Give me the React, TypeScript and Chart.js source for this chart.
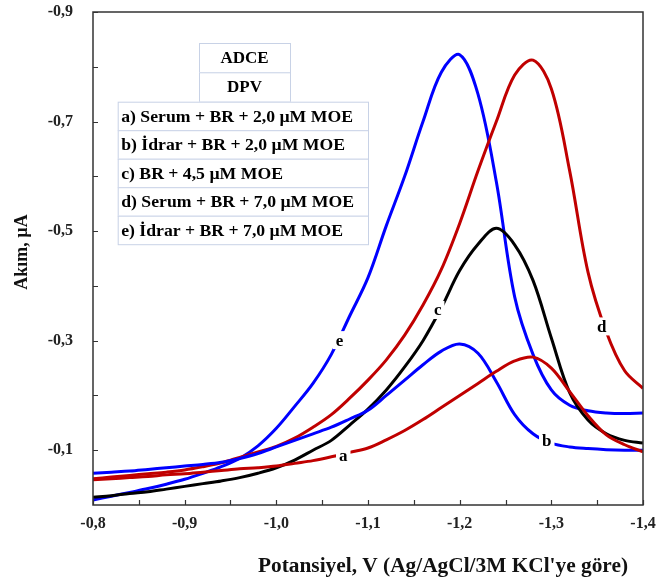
import React, { useEffect, useRef } from 'react';
import { Chart, registerables } from 'chart.js';

Chart.register(...registerables);

// Potential (V vs Ag/AgCl/3M KCl)
const potentials = [
  -0.80, -0.82, -0.84, -0.86, -0.88, -0.90, -0.92, -0.94, -0.96, -0.98,
  -1.00, -1.02, -1.04, -1.06, -1.08, -1.10, -1.12, -1.14, -1.16, -1.18,
  -1.20, -1.22, -1.24, -1.26, -1.28, -1.30, -1.32, -1.34, -1.36, -1.38, -1.40,
];

// Currents (µA)
const seriesA = [
  -0.046, -0.048, -0.050, -0.052, -0.055, -0.057, -0.060, -0.063, -0.066, -0.068,
  -0.071, -0.076, -0.081, -0.088, -0.096, -0.104, -0.119, -0.136, -0.156, -0.178,
  -0.200, -0.222, -0.244, -0.263, -0.270, -0.250, -0.207, -0.163, -0.128, -0.110, -0.097,
];
const seriesB = [
  -0.058, -0.060, -0.062, -0.065, -0.068, -0.071, -0.074, -0.078, -0.085, -0.094,
  -0.106, -0.118, -0.130, -0.142, -0.157, -0.173, -0.200, -0.228, -0.256, -0.281,
  -0.294, -0.277, -0.225, -0.165, -0.130, -0.113, -0.106, -0.103, -0.101, -0.100, -0.100,
];
const seriesC = [
  -0.014, -0.017, -0.021, -0.024, -0.029, -0.034, -0.039, -0.044, -0.050, -0.058,
  -0.068, -0.082, -0.100, -0.118, -0.146, -0.175, -0.210, -0.252, -0.300, -0.360,
  -0.428, -0.476, -0.505, -0.475, -0.410, -0.305, -0.205, -0.155, -0.130, -0.118, -0.113,
];
const seriesD = [
  -0.048, -0.051, -0.054, -0.057, -0.060, -0.064, -0.070, -0.077, -0.087, -0.097,
  -0.107, -0.122, -0.142, -0.165, -0.195, -0.228, -0.265, -0.310, -0.365, -0.430,
  -0.514, -0.610, -0.700, -0.785, -0.812, -0.760, -0.610, -0.425, -0.316, -0.245, -0.213,
];
const seriesE = [
  -0.009, -0.016, -0.023, -0.030, -0.038, -0.047, -0.058, -0.070, -0.085, -0.108,
  -0.140, -0.180, -0.222, -0.275, -0.345, -0.415, -0.510, -0.600, -0.700, -0.790,
  -0.822, -0.750, -0.590, -0.380, -0.275, -0.210, -0.182, -0.172, -0.168, -0.167, -0.168,
];

const seriesColors = ['#c00000', '#0000ff', '#000000', '#c00000', '#0000ff'];

// Axis ticks
const xTickValues = [-0.8, -0.9, -1.0, -1.1, -1.2, -1.3, -1.4];
const yTickValues = [-0.1, -0.3, -0.5, -0.7, -0.9];
const xTickMarks = [-0.8, -0.85, -0.9, -0.95, -1.0, -1.05, -1.1, -1.15, -1.2, -1.25, -1.3, -1.35, -1.4];
const yTickMarks = [-0.1, -0.2, -0.3, -0.4, -0.5, -0.6, -0.7, -0.8, -0.9];

const xTitle = "Potansiyel, V (Ag/AgCl/3M KCl'ye göre)";
const yTitle = 'Akım, µA';

// Curve letter labels
const curveLabels = ['a', 'b', 'c', 'd', 'e'];
const labelPotentials = [-1.073, -1.295, -1.176, -1.355, -1.069];
const labelCurrents = [-0.091, -0.118, -0.356, -0.326, -0.301];

// Legend table text
const legendHeader = ['ADCE', 'DPV'];
const legendRows = [
  'a) Serum + BR + 2,0 µM MOE',
  'b) İdrar + BR + 2,0 µM MOE',
  'c) BR + 4,5 µM MOE',
  'd) Serum + BR + 7,0 µM MOE',
  'e) İdrar + BR + 7,0 µM MOE',
];

const FONT = '"Liberation Serif", "Times New Roman", serif';
const fmt = (v: number) => Number(v).toFixed(1).replace('.', ',');

const decorPlugin = {
  id: 'decor',
  afterDatasetsDraw(chart: any) {
    const { ctx, chartArea: ca, scales } = chart;
    const x = scales.x;
    const y = scales.y;
    ctx.save();

    // frame
    ctx.strokeStyle = '#333';
    ctx.lineWidth = 1.5;
    ctx.strokeRect(ca.left, ca.top, ca.right - ca.left, ca.bottom - ca.top);

    // inner tick marks
    ctx.lineWidth = 1.2;
    ctx.beginPath();
    xTickMarks.forEach((v) => {
      const px = Math.round(x.getPixelForValue(v)) + 0.5;
      ctx.moveTo(px, ca.bottom);
      ctx.lineTo(px, ca.bottom - 5);
    });
    yTickMarks.forEach((v) => {
      const py = Math.round(y.getPixelForValue(v)) + 0.5;
      ctx.moveTo(ca.left, py);
      ctx.lineTo(ca.left + 5, py);
    });
    ctx.stroke();

    // curve labels
    ctx.font = `bold 17px ${FONT}`;
    ctx.textAlign = 'center';
    ctx.textBaseline = 'middle';
    curveLabels.forEach((t, i) => {
      const px = x.getPixelForValue(labelPotentials[i]);
      const py = y.getPixelForValue(labelCurrents[i]);
      const w = ctx.measureText(t).width + 6;
      ctx.fillStyle = '#fff';
      ctx.fillRect(px - w / 2, py - 9, w, 18);
      ctx.fillStyle = '#000';
      ctx.fillText(t, px, py + 1);
    });

    // legend tables
    const L = ca.left;
    const T = ca.top;
    ctx.strokeStyle = '#c8d2e6';
    ctx.lineWidth = 1;
    // header table
    ctx.font = `bold 17px ${FONT}`;
    const hx = L + 106, hw = 91, hy = T + 31, hh = 29.3;
    legendHeader.forEach((t, i) => {
      const ry = hy + i * hh;
      ctx.fillStyle = '#fff';
      ctx.fillRect(hx, ry, hw, hh);
      ctx.strokeRect(hx + 0.5, ry + 0.5, hw, hh);
      ctx.fillStyle = '#000';
      ctx.textAlign = 'center';
      ctx.fillText(t, hx + hw / 2, ry + hh / 2 + 1);
    });
    // rows table
    ctx.font = `bold 17.7px ${FONT}`;
    const rx = L + 24.7, rw = 250.3, ry0 = T + 89.7, rh = 28.5;
    legendRows.forEach((t, i) => {
      const ry = ry0 + i * rh;
      ctx.fillStyle = '#fff';
      ctx.fillRect(rx, ry, rw, rh);
      ctx.strokeRect(rx + 0.5, ry + 0.5, rw, rh);
      ctx.fillStyle = '#000';
      ctx.textAlign = 'left';
      ctx.fillText(t, rx + 3.5, ry + rh / 2 + 1);
    });

    // axis titles
    ctx.fillStyle = '#111';
    ctx.font = `bold 20px ${FONT}`;
    ctx.textAlign = 'left';
    ctx.textBaseline = 'middle';
    const tw = ctx.measureText(xTitle).width;
    const targetW = 370;
    ctx.save();
    ctx.translate(258, 567);
    ctx.scale(targetW / tw, 1);
    ctx.fillText(xTitle, 0, 0);
    ctx.restore();

    ctx.font = `bold 18px ${FONT}`;
    ctx.save();
    ctx.translate(22, 252);
    ctx.rotate(-Math.PI / 2);
    ctx.textAlign = 'center';
    ctx.fillText(yTitle, 0, 0);
    ctx.restore();

    ctx.restore();
  },
};

export default function App() {
  const ref = useRef<HTMLCanvasElement | null>(null);

  useEffect(() => {
    if (!ref.current) return;
    const names = ['a', 'b', 'c', 'd', 'e'];
    const all = [seriesA, seriesB, seriesC, seriesD, seriesE];
    const chart = new Chart(ref.current, {
      type: 'line',
      data: {
        datasets: all.map((s, i) => ({
          label: names[i],
          data: potentials.map((p, j) => ({ x: p, y: s[j] })),
          borderColor: seriesColors[i],
          borderWidth: 3,
          pointRadius: 0,
          fill: false,
          tension: 0.35,
        })),
      },
      options: {
        responsive: false,
        animation: false,
        devicePixelRatio: 1,
        layout: { padding: { left: 0, top: 12, right: 16, bottom: 0 } },
        plugins: { legend: { display: false }, tooltip: { enabled: false } },
        scales: {
          x: {
            type: 'linear',
            min: -1.4,
            max: -0.8,
            reverse: true,
            grid: { display: false, drawTicks: false },
            border: { display: false },
            afterBuildTicks: (scale: any) => {
              scale.ticks = xTickValues.map((v) => ({ value: v }));
            },
            afterFit: (scale: any) => {
              scale.height = 78;
              scale.paddingLeft = 0;
              scale.paddingRight = 0;
            },
            ticks: {
              autoSkip: false,
              maxRotation: 0,
              padding: 9,
              color: '#222',
              font: { family: FONT, size: 16, weight: 'bold' },
              callback: (v: any) => fmt(v),
            },
          },
          y: {
            type: 'linear',
            min: -0.9,
            max: 0,
            reverse: true,
            grid: { display: false, drawTicks: false },
            border: { display: false },
            afterBuildTicks: (scale: any) => {
              scale.ticks = yTickValues.map((v) => ({ value: v }));
            },
            afterFit: (scale: any) => {
              scale.width = 93;
              scale.paddingTop = 0;
              scale.paddingBottom = 0;
            },
            ticks: {
              autoSkip: false,
              padding: 20,
              color: '#222',
              font: { family: FONT, size: 16, weight: 'bold' },
              callback: (v: any) => fmt(v),
            },
          },
        },
      } as any,
      plugins: [decorPlugin],
    });
    return () => chart.destroy();
  }, []);

  return (
    <div style={{ position: 'fixed', left: 0, top: 0, width: 659, height: 583, background: '#fff' }}>
      <canvas ref={ref} width={659} height={583} />
    </div>
  );
}
